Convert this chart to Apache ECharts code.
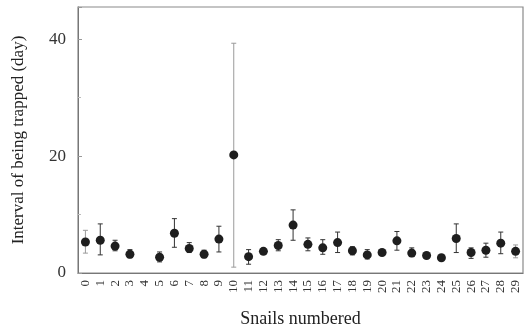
<!DOCTYPE html>
<html>
<head>
<meta charset="utf-8">
<script src="https://cdn.jsdelivr.net/npm/echarts@6/dist/echarts.min.js"></script>
<style>
  html, body { margin: 0; padding: 0; background: #fff; }
  #chart { width: 531px; height: 332px; }
</style>
</head>
<body>
<div id="chart"></div>
<script>
// snail ids 0..29
const snails = ['0','1','2','3','4','5','6','7','8','9','10','11','12','13','14','15','16','17','18','19','20','21','22','23','24','25','26','27','28','29']
// mean interval (day), null = no data
const means = [5.3, 5.6, 4.6, 3.2, null, 2.7, 6.8, 4.2, 3.2, 5.8, 20.2, 2.8, 3.7, 4.7, 8.2, 4.9, 4.3, 5.2, 3.8, 3.1, 3.5, 5.5, 3.4, 3.0, 2.6, 5.9, 3.5, 3.9, 5.1, 3.7]
const lows  = [3.4, 3.1, 3.8, 2.6, null, 1.9, 4.4, 3.5, 2.6, 3.6, 1.0, 1.5, 3.2, 3.8, 5.6, 3.8, 3.2, 3.5, 3.1, 2.4, 3.1, 3.9, 2.8, 2.6, 2.3, 3.5, 2.5, 2.7, 3.3, 2.6]
const highs = [7.3, 8.4, 5.6, 4.0, null, 3.6, 9.3, 5.2, 3.9, 8.0, 39.3, 4.0, 4.2, 5.7, 10.8, 6.0, 5.7, 7.0, 4.5, 4.0, 3.9, 7.1, 4.3, 3.4, 2.9, 8.4, 4.3, 5.1, 7.0, 4.8]
// bars drawn lighter in the original
const greyBars = ['0', '10', '29']

const barData = []
snails.forEach((s, i) => {
  if (means[i] !== null) barData.push([i, lows[i], highs[i], greyBars.includes(s) ? 1 : 0])
})
const pointData = snails.map((s, i) => means[i] === null ? '-' : means[i])

const chart = echarts.init(document.getElementById('chart'))
const serif = '"Liberation Serif", "DejaVu Serif", serif'

chart.setOption({
  animation: false,
  grid: {
    left: 78, right: 8, top: 7, bottom: 59,
    outerBoundsMode: 'none',
    show: true, borderColor: '#8a8a8a', borderWidth: 1.2
  },
  xAxis: {
    type: 'category',
    data: snails,
    name: 'Snails numbered',
    nameLocation: 'middle',
    nameGap: 37,
    nameTextStyle: { fontFamily: serif, fontSize: 18, color: '#222' },
    axisLine: { lineStyle: { color: '#777' } },
    axisTick: { inside: true, length: 4, lineStyle: { color: '#999' } },
    axisLabel: { rotate: 90, interval: 0, fontFamily: serif, fontSize: 13, color: '#333', margin: 7 }
  },
  yAxis: {
    type: 'value',
    min: 0,
    max: 45.5,
    interval: 20,
    name: 'Interval of being trapped (day)',
    nameLocation: 'middle',
    nameRotate: 90,
    nameGap: 51,
    nameTextStyle: { fontFamily: serif, fontSize: 17, color: '#222' },
    axisLine: { show: true, lineStyle: { color: '#777' } },
    axisTick: { show: true, inside: true, length: 4, lineStyle: { color: '#999' } },
    minorTick: { show: true, splitNumber: 2, length: 3, lineStyle: { color: '#bbb' } },
    splitLine: { show: false },
    axisLabel: { fontFamily: serif, fontSize: 17, color: '#333', margin: 12,
      formatter: v => (v % 20 === 0 ? String(v) : '') }
  },
  series: [
    {
      type: 'custom',
      data: barData,
      renderItem: (params, api) => {
        const lo = api.coord([api.value(0), api.value(1)])
        const hi = api.coord([api.value(0), api.value(2)])
        const color = api.value(3) ? '#9a9a9a' : '#333'
        const w = 2.5
        const style = { stroke: color, lineWidth: 1 }
        return {
          type: 'group',
          children: [
            { type: 'line', shape: { x1: lo[0], y1: lo[1], x2: hi[0], y2: hi[1] }, style },
            { type: 'line', shape: { x1: hi[0] - w, y1: hi[1], x2: hi[0] + w, y2: hi[1] }, style },
            { type: 'line', shape: { x1: lo[0] - w, y1: lo[1], x2: lo[0] + w, y2: lo[1] }, style }
          ]
        }
      },
      z: 2
    },
    {
      type: 'scatter',
      data: pointData,
      symbol: 'circle',
      symbolSize: 9,
      itemStyle: { color: '#1e1e1e', opacity: 1 },
      z: 3
    }
  ]
})
</script>
</body>
</html>
